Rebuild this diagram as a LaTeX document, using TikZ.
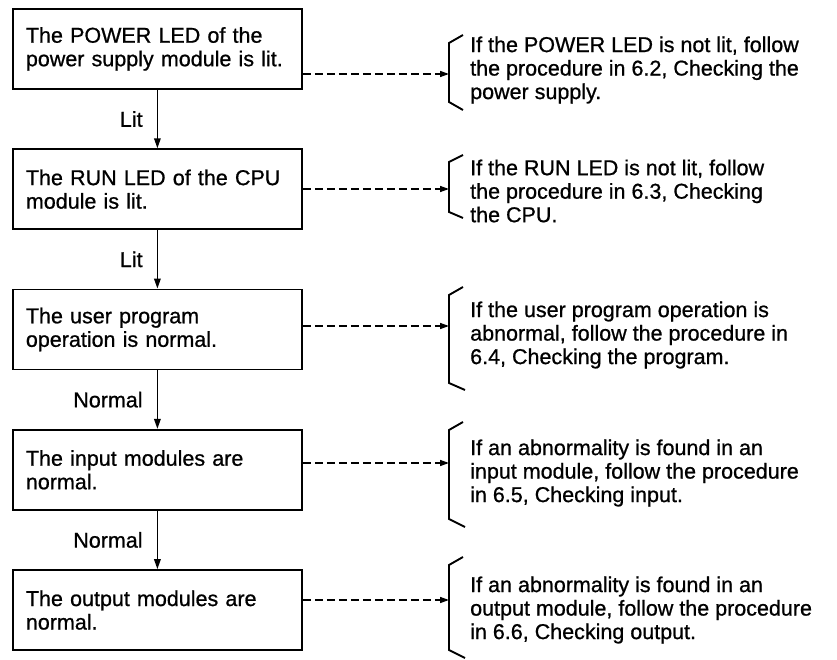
\documentclass[tikz,border=0pt]{standalone}
\usepackage{fontspec}
\setmainfont[FakeBold=0.8]{Liberation Sans}
\usetikzlibrary{positioning, arrows.meta}

\begin{document}
\begin{tikzpicture}[
    x=1pt, y=-1pt,
    node distance=58.5pt,
    every node/.style={font=\fontsize{21.5}{23.5}\selectfont},
    stepbox/.style={
        rectangle, draw, line width=1.8pt, text width=263pt, inner xsep=13pt,
        minimum height=80pt, align=left
    },
    note/.style={anchor=west, align=left, inner sep=0pt},
    cond/.style={anchor=east, inner sep=0pt, xshift=-14pt},
    flow/.style={-{Triangle[length=10pt, width=6.5pt]}, line width=1.6pt},
    check/.style={-{Triangle[length=9pt, width=6pt]}, line width=1.5pt, dash pattern=on 8pt off 4pt},
    brace/.style={line width=1.9pt}
]
\useasboundingbox (0,0) rectangle (837,660);

% --- Left: checks in order ------------------------------------------------
\node[stepbox, anchor=north west] (power) at (12,8) {The POWER LED of the\\power supply module is lit.};
\node[stepbox, below=of power] (cpu) {The RUN LED of the CPU\\module is lit.};
\node[stepbox, below=of cpu] (prog) {The user program\\operation is normal.};
\node[stepbox, below=of prog] (inmod) {The input modules are\\normal.};
\node[stepbox, below=of inmod] (outmod) {The output modules are\\normal.};

% --- Right: what to do when a check fails -----------------------------------
\node[note] (powernote) at (470,70) {If the POWER LED is not lit, follow\\the procedure in 6.2, Checking the\\power supply.};
\node[note] (cpunote) at (470,191) {If the RUN LED is not lit, follow\\the procedure in 6.3, Checking\\the CPU.};
\node[note] (prognote) at (470,335) {If the user program operation is\\abnormal, follow the procedure in\\6.4, Checking the program.};
\node[note] (innote) at (470,473) {If an abnormality is found in an\\input module, follow the procedure\\in 6.5, Checking input.};
\node[note] (outnote) at (470,610) {If an abnormality is found in an\\output module, follow the procedure\\in 6.6, Checking output.};

% brackets round the notes
\draw[brace] (463,35) -- (449,43) -- (449,102) -- (463,110);
\draw[brace] (463,155) -- (449,162) -- (449,212) -- (463,218);
\draw[brace] (463,287) -- (449,295) -- (449,383) -- (465,390);
\draw[brace] (463,422) -- (449,430) -- (449,519) -- (465,527);
\draw[brace] (463,557) -- (449,565) -- (449,650) -- (465,658);
\coordinate (powerbk) at (449,74);
\coordinate (cpubk) at (449,189);
\coordinate (progbk) at (449,326);
\coordinate (inbk) at (449,463);
\coordinate (outbk) at (449,600);

% --- Arrows ---------------------------------------------------------------
% Down-flow: passed checks
\draw[flow] (power) -- node[cond, midway]{Lit} (cpu);
\draw[flow] (cpu) -- node[cond, midway]{Lit} (prog);
\draw[flow] (prog) -- node[cond, midway]{Normal} (inmod);
\draw[flow] (inmod) -- node[cond, midway]{Normal} (outmod);
% Dashed to the right: failed checks
\draw[check] (power.east |- powerbk) -- (powerbk);
\draw[check] (cpu.east |- cpubk) -- (cpubk);
\draw[check] (prog.east |- progbk) -- (progbk);
\draw[check] (inmod.east |- inbk) -- (inbk);
\draw[check] (outmod.east |- outbk) -- (outbk);

\end{tikzpicture}
\end{document}
